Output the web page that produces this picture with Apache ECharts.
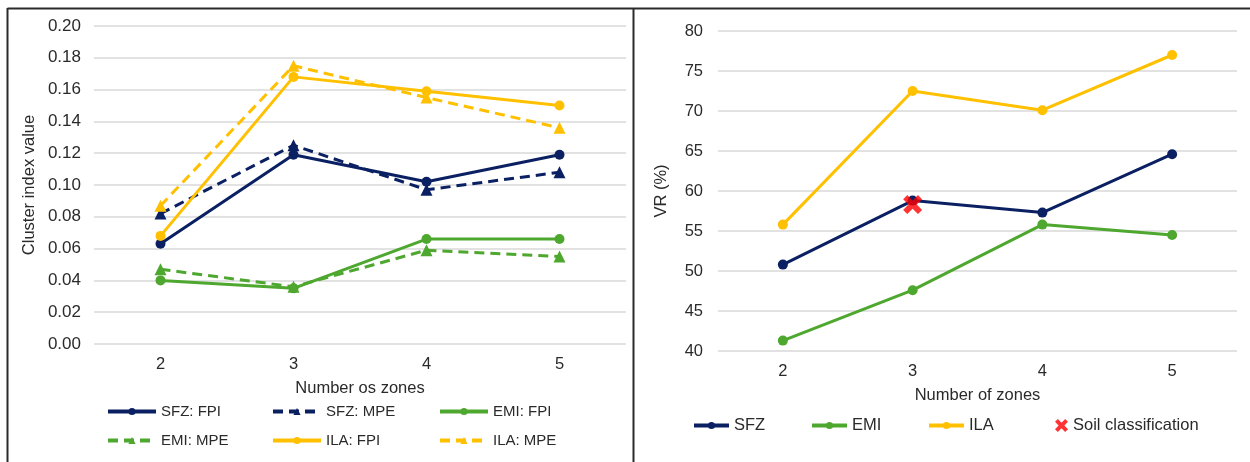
<!DOCTYPE html>
<html>
<head>
<meta charset="utf-8">
<script src="https://cdn.jsdelivr.net/npm/echarts@6/dist/echarts.min.js"></script>
<style>
  html, body { margin: 0; padding: 0; background: #fff; }
  #chart { width: 1250px; height: 462px; }
</style>
</head>
<body>
<div id="chart"></div>
<script>
// Zone counts shared by both panels
const zones = ['2', '3', '4', '5'];

// Left panel: cluster index values (FPI and MPE) per data source
const sfzFPI = [0.063, 0.119, 0.102, 0.119];
const sfzMPE = [0.082, 0.125, 0.097, 0.108];
const emiFPI = [0.040, 0.035, 0.066, 0.066];
const emiMPE = [0.047, 0.036, 0.059, 0.055];
const ilaFPI = [0.068, 0.168, 0.159, 0.150];
const ilaMPE = [0.087, 0.175, 0.155, 0.136];

// Right panel: variance reduction (%) per data source
const sfzVR = [50.8, 58.8, 57.3, 64.6];
const emiVR = [41.3, 47.6, 55.8, 54.5];
const ilaVR = [55.8, 72.5, 70.1, 77.0];
const soilVR = [null, 58.3, null, null];

const NAVY = '#0A2062';
const GREEN = '#4EA72E';
const GOLD = '#FFC000';
const RED = '#FF0000';
const FONT = '"Liberation Sans", Arial, sans-serif';
const TXT = '#2a2a2a';
const GRIDC = '#D9D9D9';
const DASH = [10, 6];
const XPATH = 'path://M2.2,0 L5,2.8 L7.8,0 L10,2.2 L7.2,5 L10,7.8 L7.8,10 L5,7.2 L2.2,10 L0,7.8 L2.8,5 L0,2.2 Z';

function lineSeries(name, data, color, dashed, symbol, xi, yi) {
  return {
    name: name, type: 'line', data: data,
    xAxisIndex: xi, yAxisIndex: yi,
    symbol: symbol, symbolSize: symbol === 'triangle' ? 12 : 10,
    lineStyle: { color: color, width: 3, type: dashed ? DASH : 'solid' },
    itemStyle: { color: color },
    z: 3
  };
}

function catAxis(gridIndex, name, size) {
  return {
    type: 'category', data: zones, gridIndex: gridIndex,
    boundaryGap: true,
    axisLine: { show: false }, axisTick: { show: false },
    axisLabel: { color: TXT, fontFamily: FONT, fontSize: size, margin: 12 },
    name: name, nameLocation: 'middle', nameGap: 36,
    nameTextStyle: { color: TXT, fontFamily: FONT, fontSize: size }
  };
}

function legendItem(name, left, top, w, size) {
  return {
    data: [name], left: left, top: top, padding: 0,
    itemWidth: w, itemHeight: 9, itemGap: 0,
    lineStyle: { width: 4 },
    textStyle: { color: TXT, fontFamily: FONT, fontSize: size },
    selectedMode: false
  };
}

const chart = echarts.init(document.getElementById('chart'), null, { renderer: 'canvas' });

chart.setOption({
  backgroundColor: '#ffffff',
  animation: false,
  grid: [
    { left: 94, right: 624, top: 26, bottom: 118 },
    { left: 718, right: 13, top: 31, bottom: 111 }
  ],
  xAxis: [
    catAxis(0, 'Number os zones', 16.5),
    catAxis(1, 'Number of zones', 16.5)
  ],
  yAxis: [
    {
      type: 'value', gridIndex: 0, min: 0, max: 0.2, interval: 0.02,
      axisLine: { show: false }, axisTick: { show: false },
      splitLine: { lineStyle: { color: GRIDC, width: 1.5 } },
      axisLabel: { color: TXT, fontFamily: FONT, fontSize: 17, margin: 13,
        formatter: v => v.toFixed(2) },
      name: 'Cluster index value', nameLocation: 'middle', nameGap: 56,
      nameTextStyle: { color: TXT, fontFamily: FONT, fontSize: 16.5 }
    },
    {
      type: 'value', gridIndex: 1, min: 40, max: 80, interval: 5,
      axisLine: { show: false }, axisTick: { show: false },
      splitLine: { lineStyle: { color: GRIDC, width: 1.5 } },
      axisLabel: { color: TXT, fontFamily: FONT, fontSize: 16.5, margin: 15 },
      name: 'VR (%)', nameLocation: 'middle', nameGap: 48,
      nameTextStyle: { color: TXT, fontFamily: FONT, fontSize: 16.5 }
    }
  ],
  legend: [
    legendItem('SFZ: FPI', 106, 404, 48, 15),
    legendItem('SFZ: MPE', 271, 404, 48, 15),
    legendItem('EMI: FPI', 438, 404, 48, 15),
    legendItem('EMI: MPE', 106, 433, 48, 15),
    legendItem('ILA: FPI', 271, 433, 48, 15),
    legendItem('ILA: MPE', 438, 433, 48, 15),
    legendItem('SFZ', 692, 417, 35, 16.5),
    legendItem('EMI', 810, 417, 35, 16.5),
    legendItem('ILA', 927, 417, 35, 16.5),
    Object.assign(legendItem('Soil classification', 1055, 417, 13, 16.5), { itemHeight: 13 })
  ],
  series: [
    lineSeries('SFZ: FPI', sfzFPI, NAVY, false, 'circle', 0, 0),
    lineSeries('SFZ: MPE', sfzMPE, NAVY, true, 'triangle', 0, 0),
    lineSeries('EMI: FPI', emiFPI, GREEN, false, 'circle', 0, 0),
    lineSeries('EMI: MPE', emiMPE, GREEN, true, 'triangle', 0, 0),
    lineSeries('ILA: FPI', ilaFPI, GOLD, false, 'circle', 0, 0),
    lineSeries('ILA: MPE', ilaMPE, GOLD, true, 'triangle', 0, 0),
    lineSeries('SFZ', sfzVR, NAVY, false, 'circle', 1, 1),
    lineSeries('EMI', emiVR, GREEN, false, 'circle', 1, 1),
    lineSeries('ILA', ilaVR, GOLD, false, 'circle', 1, 1),
    {
      name: 'Soil classification', type: 'scatter', data: soilVR,
      xAxisIndex: 1, yAxisIndex: 1,
      symbol: XPATH, symbolSize: 19,
      itemStyle: { color: RED }, z: 5
    }
  ],
  graphic: [
    // panel frames
    { type: 'line', shape: { x1: 7.5, y1: 8.5, x2: 1250, y2: 8.5 }, style: { stroke: '#2b2b2b', lineWidth: 2 } },
    { type: 'line', shape: { x1: 7.5, y1: 8, x2: 7.5, y2: 462 }, style: { stroke: '#2b2b2b', lineWidth: 2 } },
    { type: 'line', shape: { x1: 633.5, y1: 8, x2: 633.5, y2: 462 }, style: { stroke: '#2b2b2b', lineWidth: 2 } }
  ]
});
</script>
</body>
</html>
